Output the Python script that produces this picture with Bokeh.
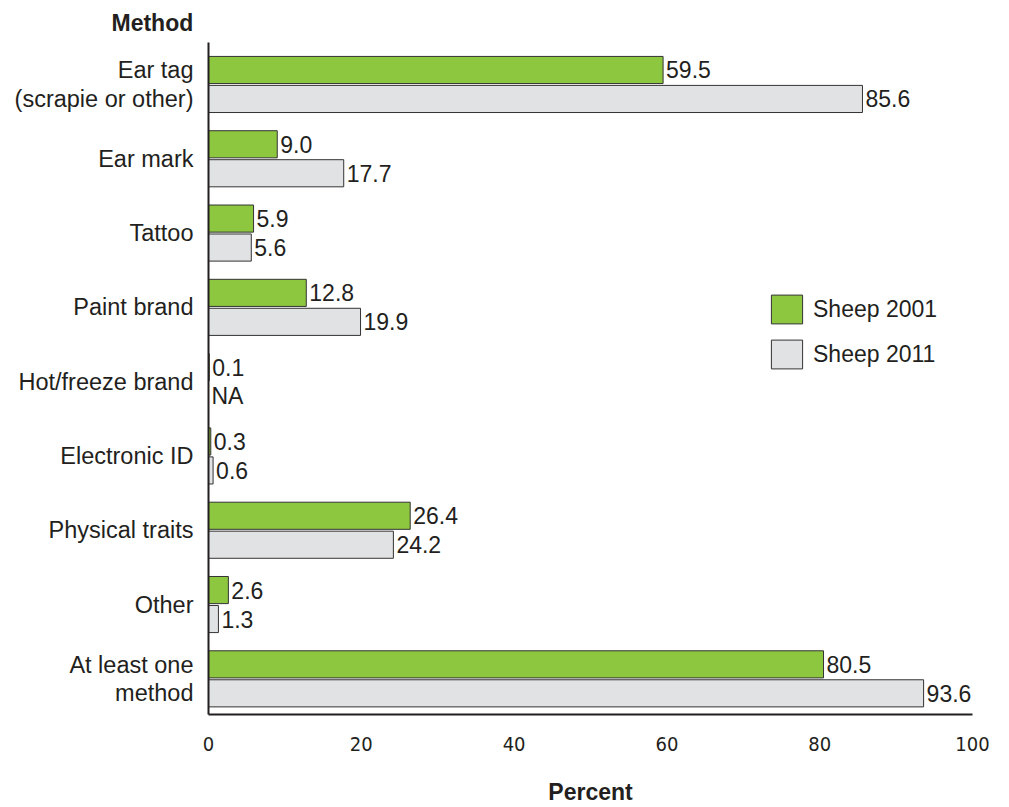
from bokeh.plotting import figure
from bokeh.models import ColumnDataSource, Range1d, FixedTicker, Legend, LegendItem, Title
from bokeh.core.properties import value
from bokeh.embed import file_html
from bokeh.resources import INLINE
import math

categories = ["Ear tag\n(scrapie or other)", "Ear mark", "Tattoo", "Paint brand",
              "Hot/freeze brand", "Electronic ID", "Physical traits", "Other",
              "At least one\nmethod"]
sheep_2001 = [59.5, 9.0, 5.9, 12.8, 0.1, 0.3, 26.4, 2.6, 80.5]
sheep_2011 = [85.6, 17.7, 5.6, 19.9, float("nan"), 0.6, 24.2, 1.3, 93.6]
series_names = ["Sheep 2001", "Sheep 2011"]
x_ticks = [0, 20, 40, 60, 80, 100]

GREEN = "#8dc63f"
GRAY = "#e1e2e4"
TXT = "#231f20"
FONT = "Liberation Sans"
NARROW = "'DejaVu Sans Condensed', 'Liberation Sans', sans-serif"
FS = "23px"

pos = list(range(len(categories)))
off = 0.195
h = 0.365

def lab(v):
    return "NA" if (v is None or (isinstance(v, float) and math.isnan(v))) else f"{v:.1f}"

src1 = ColumnDataSource(dict(y=[q - off for q in pos], right=sheep_2001,
                             lab=[lab(v) for v in sheep_2001],
                             lx=[0 if math.isnan(v) else v for v in sheep_2001]))
src2 = ColumnDataSource(dict(y=[q + off for q in pos], right=sheep_2011,
                             lab=[lab(v) for v in sheep_2011],
                             lx=[0 if math.isnan(v) else v for v in sheep_2011]))

p = figure(width=1009, height=807, output_backend="svg", toolbar_location=None,
           x_range=Range1d(0, 100), y_range=Range1d(8.48, -0.565),
           min_border_left=208, min_border_right=37, min_border_top=42,
           min_border_bottom=92)
p.outline_line_color = None
p.xgrid.visible = False
p.ygrid.visible = False
p.background_fill_color = "white"
p.border_fill_color = "white"

g1 = p.hbar(y="y", right="right", left=0, height=h, source=src1,
            fill_color=GREEN, line_color="#333333", line_width=1)
g2 = p.hbar(y="y", right="right", left=0, height=h, source=src2,
            fill_color=GRAY, line_color="#333333", line_width=1)

for s in (src1, src2):
    p.text(x="lx", y="y", text="lab", source=s, x_offset=3,
           text_align="left", text_baseline="middle",
           text_font=value(FONT), text_font_size=FS, text_color=TXT)

# axes
p.yaxis.ticker = FixedTicker(ticks=pos)
p.yaxis.major_label_overrides = {i: c for i, c in enumerate(categories)}
p.yaxis.major_tick_line_color = None
p.yaxis.minor_tick_line_color = None
p.yaxis.major_label_standoff = 9
p.yaxis.major_label_text_font = FONT
p.yaxis.major_label_text_font_size = "23.5px"
p.yaxis.major_label_text_color = TXT
p.yaxis.major_label_text_line_height = 1.1
p.yaxis.axis_line_width = 2
p.yaxis.axis_line_color = TXT

p.xaxis.ticker = FixedTicker(ticks=x_ticks)
p.xaxis.major_tick_line_color = None
p.xaxis.minor_tick_line_color = None
p.xaxis.major_label_standoff = 16
p.xaxis.major_label_text_font = NARROW
p.xaxis.major_label_text_font_size = "20px"
p.xaxis.major_label_text_color = TXT
p.xaxis.axis_line_width = 2
p.xaxis.axis_line_color = TXT
p.xaxis.axis_label = "Percent"
p.xaxis.axis_label_text_font = FONT
p.xaxis.axis_label_text_font_style = "bold"
p.xaxis.axis_label_text_font_size = "23px"
p.xaxis.axis_label_text_color = TXT
p.xaxis.axis_label_standoff = 25

p.add_layout(Title(text="Method", align="left", offset=-97, standoff=14,
                   text_font=FONT, text_font_style="bold", text_font_size=FS,
                   text_color=TXT), "above")

legend = Legend(items=[LegendItem(label=series_names[0], renderers=[g1]),
                       LegendItem(label=series_names[1], renderers=[g2])],
                location=(559, 342), orientation="vertical",
                glyph_width=39, glyph_height=36, spacing=9, padding=0, margin=0,
                label_standoff=7, label_text_font=FONT, label_text_font_size=FS,
                label_text_color=TXT, border_line_color=None,
                background_fill_alpha=0)
p.add_layout(legend)

open("out.html", "w").write(file_html(p, INLINE))
